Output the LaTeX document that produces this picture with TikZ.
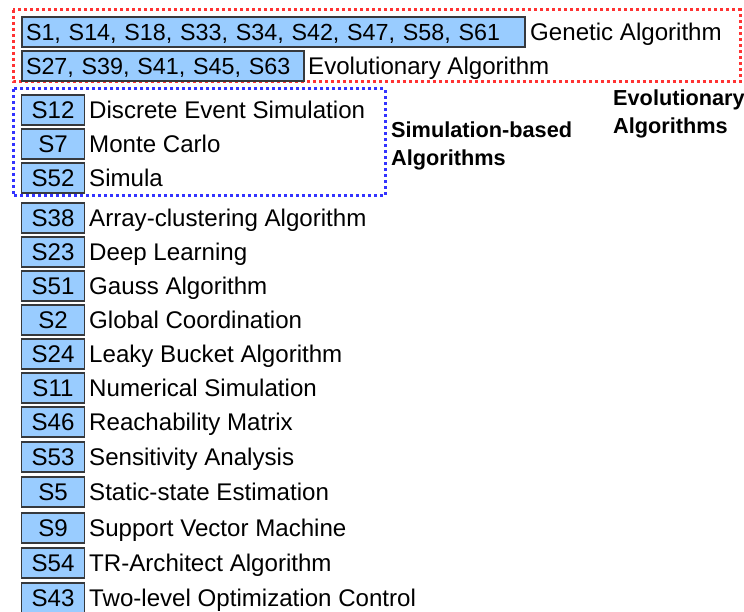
\documentclass[tikz,border=0pt]{standalone}
\usepackage{fontspec}
\setmainfont{Liberation Sans}
\begin{document}
\begin{tikzpicture}[x=1pt,y=-1pt,
  sbox/.style={draw=boxline, line width=1.4pt, fill=boxfill, inner sep=0pt,
    minimum height=30pt, text height=17pt, text depth=0pt,
    font=\fontsize{24.1}{28}\selectfont},
  wbox/.style={sbox, align=left, inner xsep=4pt, font=\fontsize{23.3}{28}\selectfont},
  lbl/.style={anchor=west, inner sep=0pt, text height=17pt, text depth=0pt,
    font=\fontsize{24.1}{28}\selectfont},
  grp/.style={anchor=base west, inner sep=0pt, align=left,
    font=\fontsize{21.7}{28}\selectfont\bfseries},
  redgrp/.style={draw=grpred, line width=3pt, dash pattern=on 3pt off 3pt},
  bluegrp/.style={draw=grpblue, line width=3pt, dash pattern=on 3pt off 3pt}]
\definecolor{boxfill}{HTML}{99CCFF}
\definecolor{boxline}{HTML}{36393D}
\definecolor{grpred}{HTML}{FF3333}
\definecolor{grpblue}{HTML}{3333FF}
\useasboundingbox (0,0) rectangle (744,612);

% group frames
\draw[redgrp] (13,10) rectangle (740,82);
\draw[bluegrp] (13,89) rectangle (385,196);

% evolutionary
\node[wbox, text width=495pt] (ga) at (273.5,32) {S1, S14, S18, S33, S34, S42, S47, S58, S61};
\node[lbl] (gal) at (530,32) {Genetic Algorithm};
\node[wbox, text width=274pt] (ea) at (163,66) {S27, S39, S41, S45, S63};
\node[lbl] (eal) at (308,66) {Evolutionary Algorithm};

% simulation-based
\node[sbox, minimum width=63pt] (s12) at (53,110) {S12};
\node[lbl] (s12l) at (89,110) {Discrete Event Simulation};
\node[sbox, minimum width=63pt] (s7) at (53,144) {S7};
\node[lbl] (s7l) at (89,144) {Monte Carlo};
\node[sbox, minimum width=63pt] (s52) at (53,178) {S52};
\node[lbl] (s52l) at (89,178) {Simula};

% others
\node[sbox, minimum width=63pt] (s38) at (53,218) {S38};
\node[lbl] (s38l) at (89,218) {Array-clustering Algorithm};
\node[sbox, minimum width=63pt] (s23) at (53,252) {S23};
\node[lbl] (s23l) at (89,252) {Deep Learning};
\node[sbox, minimum width=63pt] (s51) at (53,286) {S51};
\node[lbl] (s51l) at (89,286) {Gauss Algorithm};
\node[sbox, minimum width=63pt] (s2) at (53,320) {S2};
\node[lbl] (s2l) at (89,320) {Global Coordination};
\node[sbox, minimum width=63pt] (s24) at (53,354) {S24};
\node[lbl] (s24l) at (89,354) {Leaky Bucket Algorithm};
\node[sbox, minimum width=63pt] (s11) at (53,388) {S11};
\node[lbl] (s11l) at (89,388) {Numerical Simulation};
\node[sbox, minimum width=63pt] (s46) at (53,422) {S46};
\node[lbl] (s46l) at (89,422) {Reachability Matrix};
\node[sbox, minimum width=63pt] (s53) at (53,457) {S53};
\node[lbl] (s53l) at (89,457) {Sensitivity Analysis};
\node[sbox, minimum width=63pt] (s5) at (53,492) {S5};
\node[lbl] (s5l) at (89,492) {Static-state Estimation};
\node[sbox, minimum width=63pt] (s9) at (53,528) {S9};
\node[lbl] (s9l) at (89,528) {Support Vector Machine};
\node[sbox, minimum width=63pt] (s54) at (53,563) {S54};
\node[lbl] (s54l) at (89,563) {TR-Architect Algorithm};
\node[sbox, minimum width=63pt] (s43) at (53,598) {S43};
\node[lbl] (s43l) at (89,598) {Two-level Optimization Control};

% group labels (base anchor = baseline of last line)
\node[grp] (evo) at (613,133.5) {Evolutionary\\Algorithms};
\node[grp] (sim) at (391,165.5) {Simulation-based\\Algorithms};
\end{tikzpicture}
\end{document}
